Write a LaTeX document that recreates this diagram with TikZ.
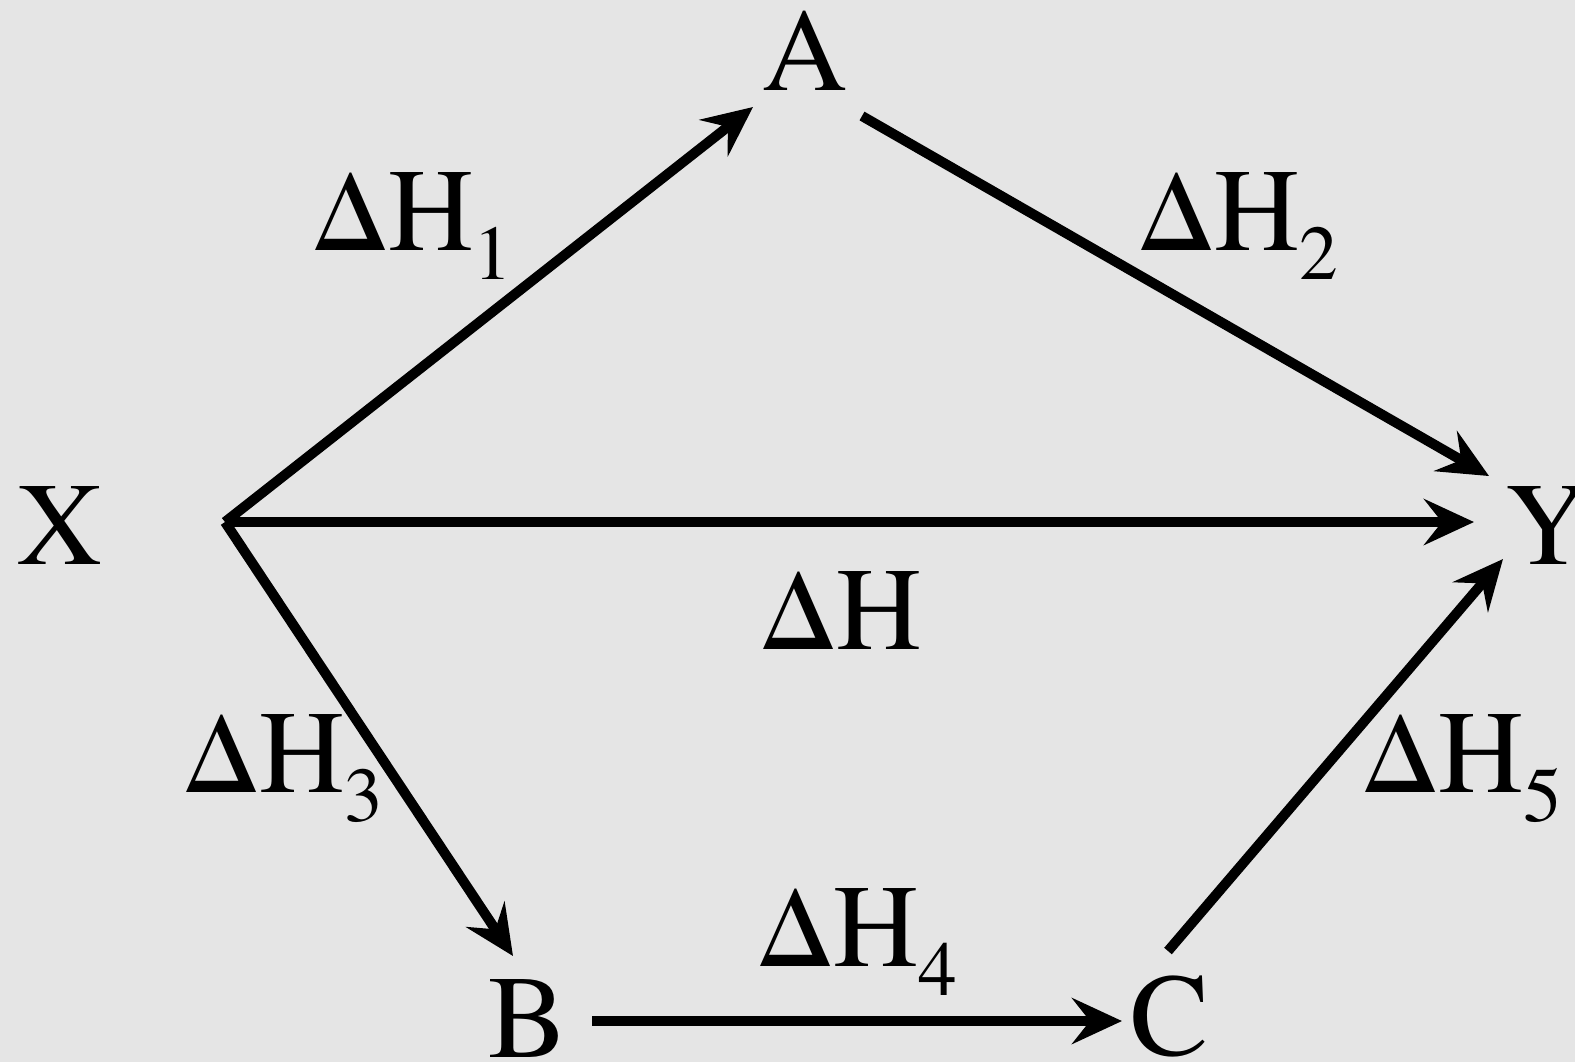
\documentclass[tikz,border=0pt]{standalone}
\usepackage{fontspec}
\usepackage{graphicx}
\setmainfont{texgyretermes-regular.otf}
\usetikzlibrary{arrows.meta}
\definecolor{bg}{RGB}{229,229,229}
\newcommand{\bigtxt}{\fontsize{33.5pt}{36pt}\selectfont}
\newcommand{\sbs}[1]{\raisebox{-0.25em}{\fontsize{22pt}{24pt}\selectfont #1}}
\newcommand{\Dl}{\scalebox{0.98}[0.9]{Δ}}
\tikzset{
  lbl/.style={inner sep=0pt, anchor=base west, font=\bigtxt},
  vtx/.style={inner sep=0pt, anchor=base, font=\bigtxt},
  arr/.style={line width=0.1cm, -{Stealth[length=0.5cm, width=0.46cm, inset=0.18cm]}},
}
\begin{document}
\begin{tikzpicture}[x=0.01cm,y=-0.01cm]
\fill[bg] (0,0) rectangle (1575,1062);
\useasboundingbox (0,0) rectangle (1575,1062);
% vertices
\node[vtx] (X) at (60,564) {X};
\node[vtx] (A) at (805,90) {A};
\node[vtx] (Y) at (1548,564) {Y};
\node[vtx] (B) at (528,1057) {B};
\node[vtx] (C) at (1170,1055) {C};
% connector ends
\coordinate (hub) at (225,522);
\coordinate (tA) at (753,107);
\coordinate (sA) at (862,116);
\coordinate (tYa) at (1489,476);
\coordinate (tYx) at (1474,522);
\coordinate (tYc) at (1503,559);
\coordinate (tB) at (513,956);
\coordinate (sB) at (592,1021);
\coordinate (tC) at (1122,1021);
\coordinate (sC) at (1168,951);
% arrows
\draw[arr] (hub) -- (tA);
\draw[arr] (sA) -- (tYa);
\draw[arr] (hub) -- (tYx);
\draw[arr] (hub) -- (tB);
\draw[arr] (sB) -- (tC);
\draw[arr] (sC) -- (tYc);
% labels
\node[lbl] (h1) at (312,250) {\Dl H\sbs{1}};
\node[lbl] (h2) at (1138,250) {\Dl H\sbs{2}};
\node[lbl] (h) at (760,649) {\Dl H};
\node[lbl] (h3) at (183,792) {\Dl H\sbs{3}};
\node[lbl] (h4) at (757,966) {\Dl H\sbs{4}};
\node[lbl] (h5) at (1362,792) {\Dl H\sbs{5}};
\end{tikzpicture}
\end{document}
